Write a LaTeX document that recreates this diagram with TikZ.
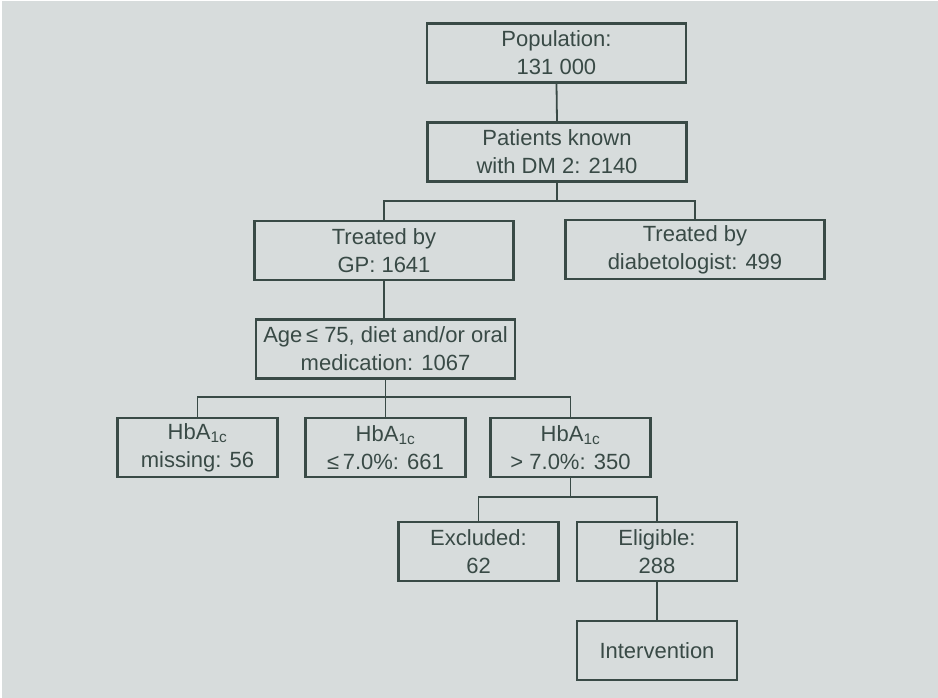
\documentclass[tikz,border=0pt]{standalone}
\usepackage{fontspec}
\setmainfont{Liberation Sans}
\usepackage{tikz}
\usetikzlibrary{positioning,calc}
\definecolor{ink}   {HTML}{394A46}
\definecolor{paper} {HTML}{D7DCDC}
\tikzset{
  % --- nodes
  box/.style    = {draw=ink, fill=paper, line width=2.4pt, align=center, text=ink,
                   minimum height=59pt, inner sep=0pt,
                   font=\fontsize{22}{28}\selectfont},
  wide/.style   = {box, minimum width=259pt},
  narrow/.style = {box, minimum width=160pt},
  % --- edges
  e/.style      = {draw=ink, line width=1.8pt},
}

\begin{document}
\begin{tikzpicture}[x=1pt,y=-1pt]
  % frame
  \fill[white] (0,0) rectangle (938,698);
  \fill[paper] (1.5,1.5) rectangle (938,698);
  \useasboundingbox (0,0) rectangle (938,698);

  % boxes, top to bottom
  \node[wide]   (pop)    at (556.5,53)    {Population:\\131 000};
  \node[wide]   (known)  at (557,152)     {Patients known\\with DM 2: 2140};
  \node[wide]   (gp)     at (384,250.5)   {Treated by\\GP: 1641};
  \node[wide]   (diab)   at (695,249.5)   {Treated by\\diabetologist: 499};
  \node[wide]   (age)    at (385.5,349)   {Age\,≤ 75, diet and/or oral\\medication: 1067};
  \node[narrow] (miss)   at (197.5,447.5) {HbA\textsubscript{1c}\\missing: 56};
  \node[narrow] (low)    at (385.5,447.5) {HbA\textsubscript{1c}\\≤\,7.0\%: 661};
  \node[narrow] (high)   at (570.5,447.5) {HbA\textsubscript{1c}\\> 7.0\%: 350};
  \node[narrow] (excl)   at (478.5,551.5) {Excluded:\\62};
  \node[narrow] (elig)   at (657,551.5)   {Eligible:\\288};
  \node[narrow] (interv) at (657,650.5)   {Intervention};

  % split points
  \coordinate (j1) at (known.south |- 0,201);
  \coordinate (j2) at (age.south |- 0,397);
  \coordinate (j3) at (high.south |- 0,497);

  % connectors
  \draw[e] (pop.south) -- (known.north);
  \draw[e] (known.south) -- (j1);
  \draw[e] (gp.north) |- (j1) -| (diab.north);
  \draw[e] (gp.south) -- (gp.south |- age.north);
  \draw[e] (age.south) -- (j2) -- (low.north);
  \draw[e] (miss.north) |- (j2) -| (high.north);
  \draw[e] (high.south) -- (j3);
  \draw[e] (excl.north) |- (j3) -| (elig.north);
  \draw[e] (elig.south) -- (interv.north);
\end{tikzpicture}
\end{document}
